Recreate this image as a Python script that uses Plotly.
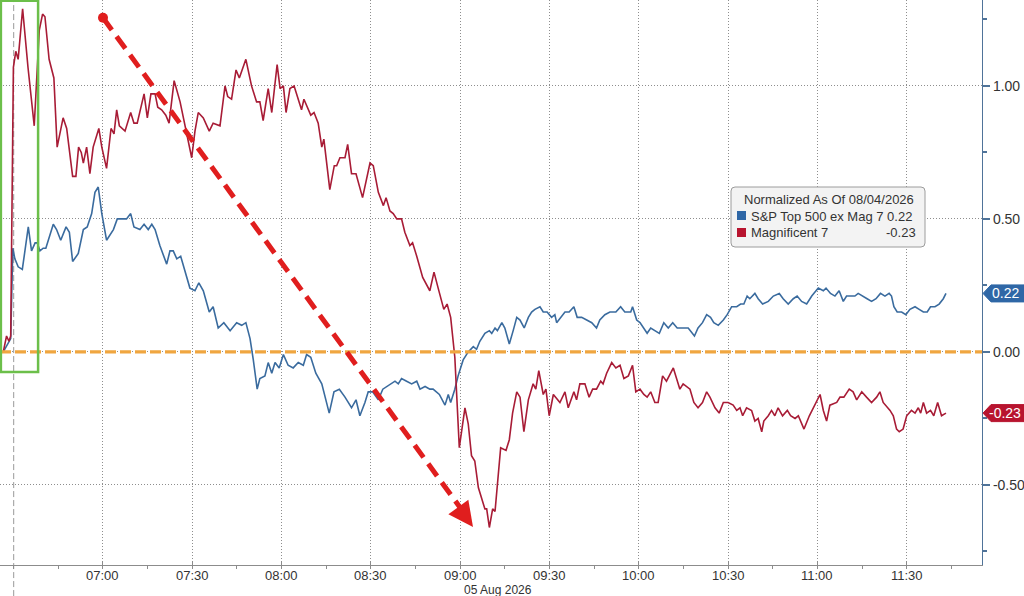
import pandas as pd
import plotly.graph_objects as go

# ---------------- data (minutes after the 06:30 open, normalized value) ----------------
SESSION_OPEN = "2026-08-05 06:30"
SERIES_NAMES = ["S&P Top 500 ex Mag 7", "Magnificent 7"]
LEGEND_TITLE = "Normalized As Of 08/04/2026"
DATE_LABEL = "05 Aug 2026"

X_TICKS = ["07:00", "07:30", "08:00", "08:30", "09:00", "09:30", "10:00", "10:30", "11:00", "11:30"]
Y_TICKS = [-0.50, 0.00, 0.50, 1.00]
Y_MINOR = [-0.75, -0.25, 0.25, 0.75, 1.25]

SPX_EX_MAG7 = [
    (-3.5, 0.00), (-2.4, 0.02), (-1.0, 0.05), (-0.3, 0.39), (0.4, 0.35), (1.5, 0.32), (2.9, 0.31),
    (4.9, 0.47), (6.0, 0.38), (7.2, 0.41), (7.9, 0.41), (8.8, 0.38), (9.9, 0.39), (10.8, 0.39),
    (12.0, 0.43), (13.3, 0.48), (14.4, 0.46), (15.8, 0.42), (17.6, 0.47), (18.7, 0.45), (19.8, 0.34),
    (21.7, 0.37), (23.4, 0.46), (24.7, 0.47), (26.2, 0.52), (27.3, 0.60), (28.4, 0.62), (29.6, 0.52),
    (31.2, 0.42), (33.5, 0.46), (34.8, 0.50), (36.8, 0.50), (37.9, 0.50), (39.3, 0.52), (40.4, 0.47),
    (42.4, 0.46), (43.8, 0.48), (45.2, 0.46), (46.4, 0.48), (47.5, 0.46), (49.1, 0.40), (51.4, 0.33),
    (52.5, 0.38), (53.6, 0.38), (54.8, 0.35), (56.1, 0.36), (57.5, 0.31), (59.2, 0.24), (60.9, 0.23),
    (62.2, 0.26), (63.7, 0.23), (65.7, 0.15), (67.0, 0.17), (68.7, 0.09), (70.6, 0.11), (72.7, 0.08),
    (74.9, 0.11), (76.6, 0.10), (78.0, 0.11), (79.4, 0.05), (80.5, -0.03), (81.8, -0.14), (82.7, -0.10),
    (84.4, -0.09), (85.5, -0.04), (86.7, -0.08), (87.8, -0.04), (89.2, -0.06), (90.6, -0.01), (92.2, -0.05),
    (93.9, -0.06), (95.6, -0.04), (97.3, -0.05), (98.4, -0.01), (99.8, -0.02), (101.5, -0.08), (103.5, -0.12),
    (106.0, -0.23), (107.6, -0.15), (109.4, -0.14), (111.3, -0.17), (113.5, -0.21), (115.0, -0.18),
    (116.3, -0.24), (118.0, -0.19), (119.1, -0.15), (120.6, -0.15), (122.5, -0.18), (124.0, -0.14),
    (125.3, -0.13), (126.6, -0.12), (128.1, -0.11), (129.2, -0.12), (130.3, -0.10), (132.0, -0.11),
    (133.7, -0.12), (135.4, -0.11), (136.5, -0.14), (138.2, -0.13), (139.8, -0.14), (140.9, -0.14),
    (143.0, -0.16), (144.9, -0.20), (146.0, -0.16), (146.8, -0.19), (148.2, -0.14), (149.3, -0.09),
    (151.0, -0.03), (152.7, 0.00), (154.4, 0.02), (155.5, 0.01), (156.6, 0.04), (158.3, 0.07), (159.8, 0.08),
    (160.6, 0.07), (161.7, 0.09), (162.5, 0.08), (164.0, 0.11), (165.0, 0.09), (166.5, 0.03), (167.8, 0.08),
    (169.0, 0.13), (170.1, 0.12), (171.5, 0.09), (172.9, 0.13), (174.0, 0.15), (175.1, 0.16), (176.8, 0.17),
    (177.9, 0.15), (179.2, 0.15), (180.7, 0.13), (181.8, 0.14), (182.4, 0.11), (183.7, 0.13), (185.2, 0.15),
    (186.6, 0.15), (188.2, 0.17), (189.3, 0.13), (190.8, 0.13), (192.5, 0.12), (194.2, 0.11), (195.8, 0.09),
    (196.9, 0.12), (198.6, 0.14), (200.3, 0.15), (202.3, 0.15), (203.9, 0.17), (205.3, 0.15), (207.3, 0.15),
    (207.9, 0.17), (209.3, 0.12), (210.4, 0.11), (211.7, 0.09), (212.8, 0.07), (214.0, 0.09), (215.4, 0.08),
    (216.9, 0.07), (218.4, 0.11), (219.9, 0.09), (221.4, 0.11), (222.9, 0.09), (224.7, 0.09), (226.6, 0.09),
    (228.7, 0.06), (229.9, 0.09), (231.4, 0.11), (232.8, 0.14), (234.1, 0.13), (235.2, 0.11), (236.7, 0.10),
    (238.4, 0.12), (239.7, 0.14), (241.2, 0.17), (242.9, 0.17), (244.2, 0.18), (245.3, 0.18), (246.4, 0.21),
    (247.3, 0.20), (249.0, 0.22), (250.1, 0.20), (251.6, 0.18), (253.5, 0.19), (255.2, 0.21), (257.2, 0.22),
    (258.5, 0.20), (260.2, 0.18), (261.9, 0.20), (263.2, 0.21), (264.7, 0.19), (266.4, 0.18), (268.1, 0.21),
    (270.3, 0.24), (272.0, 0.23), (272.9, 0.24), (274.4, 0.22), (275.9, 0.21), (277.3, 0.23), (278.7, 0.19),
    (279.8, 0.21), (280.9, 0.21), (282.6, 0.21), (283.7, 0.22), (285.4, 0.21), (286.7, 0.20), (288.2, 0.19),
    (289.7, 0.20), (291.2, 0.22), (292.7, 0.21), (294.1, 0.22), (294.9, 0.21), (295.7, 0.17), (296.8, 0.15),
    (298.3, 0.15), (299.7, 0.14), (301.1, 0.16), (302.8, 0.17), (304.2, 0.16), (305.6, 0.15), (306.9, 0.15),
    (308.0, 0.17), (309.5, 0.17), (310.9, 0.18), (312.3, 0.20), (313.2, 0.22),
]

MAG7 = [
    (-3.5, 0.00), (-2.4, 0.06), (-1.6, 0.04), (-1.0, 0.06), (-0.1, 1.07), (0.7, 1.13), (1.5, 1.10),
    (3.0, 1.29), (4.8, 1.07), (6.9, 0.85), (8.6, 1.21), (9.7, 1.27), (10.5, 1.26), (11.9, 1.10),
    (13.5, 1.03), (14.6, 0.77), (16.6, 0.88), (17.8, 0.84), (19.8, 0.66), (20.9, 0.66), (21.8, 0.77),
    (22.7, 0.75), (23.4, 0.71), (24.5, 0.77), (25.6, 0.67), (26.7, 0.77), (28.6, 0.84), (29.6, 0.77),
    (31.2, 0.69), (32.7, 0.84), (33.7, 0.82), (34.6, 0.91), (35.5, 0.85), (37.4, 0.83), (39.3, 0.90),
    (40.4, 0.86), (41.5, 0.86), (43.8, 0.97), (44.9, 0.88), (46.1, 0.97), (47.5, 0.97), (48.4, 0.92),
    (49.7, 0.91), (51.1, 0.89), (52.2, 0.86), (53.9, 1.02), (55.9, 0.94), (58.1, 0.82), (59.8, 0.73),
    (60.9, 0.83), (62.0, 0.90), (63.7, 0.88), (65.7, 0.83), (67.0, 0.86), (69.3, 0.85), (71.0, 1.00),
    (71.9, 0.96), (73.2, 0.95), (74.7, 1.06), (75.8, 1.03), (78.0, 1.10), (79.9, 1.00), (81.6, 0.94),
    (82.7, 0.94), (83.8, 0.87), (85.5, 0.99), (86.7, 0.90), (88.5, 1.08), (89.5, 0.99), (90.6, 1.00),
    (91.5, 0.90), (92.8, 0.99), (94.2, 1.00), (96.7, 0.91), (97.5, 0.95), (99.8, 0.89), (100.9, 0.90),
    (102.3, 0.86), (103.5, 0.77), (104.2, 0.80), (106.2, 0.61), (107.7, 0.70), (108.5, 0.70), (109.6, 0.73),
    (111.3, 0.73), (112.2, 0.78), (113.5, 0.67), (115.0, 0.67), (117.2, 0.58), (119.7, 0.71), (120.8, 0.70),
    (122.5, 0.60), (124.2, 0.55), (125.1, 0.58), (126.4, 0.53), (127.5, 0.52), (128.7, 0.50), (130.3, 0.50),
    (131.4, 0.45), (133.1, 0.40), (134.0, 0.41), (135.4, 0.36), (137.4, 0.28), (139.8, 0.23), (141.2, 0.30),
    (142.6, 0.24), (144.5, 0.16), (145.6, 0.18), (146.8, 0.13), (148.2, -0.02), (149.7, -0.36),
    (151.6, -0.21), (152.7, -0.27), (153.8, -0.39), (154.9, -0.41), (156.1, -0.51), (157.2, -0.55),
    (158.3, -0.59), (158.9, -0.59), (159.8, -0.66), (160.9, -0.59), (161.7, -0.60), (163.6, -0.36),
    (165.4, -0.37), (166.5, -0.33), (167.6, -0.23), (169.0, -0.15), (170.1, -0.17), (171.4, -0.30),
    (172.9, -0.18), (174.5, -0.12), (175.4, -0.14), (176.4, -0.07), (177.9, -0.16), (178.8, -0.14),
    (179.9, -0.24), (181.3, -0.16), (183.5, -0.19), (185.2, -0.15), (186.3, -0.21), (188.2, -0.15),
    (189.1, -0.18), (190.2, -0.12), (191.9, -0.12), (193.3, -0.17), (194.5, -0.14), (195.8, -0.14),
    (197.2, -0.11), (198.0, -0.12), (199.2, -0.08), (200.9, -0.04), (202.3, -0.06), (203.7, -0.05),
    (205.0, -0.10), (206.5, -0.09), (207.9, -0.05), (209.0, -0.15), (210.4, -0.14), (211.7, -0.16),
    (212.8, -0.17), (214.0, -0.15), (215.4, -0.19), (216.5, -0.19), (218.0, -0.09), (219.3, -0.11),
    (221.6, -0.06), (223.8, -0.14), (224.9, -0.12), (227.2, -0.14), (228.5, -0.19), (229.9, -0.21),
    (231.4, -0.19), (232.8, -0.15), (233.9, -0.17), (235.6, -0.21), (237.0, -0.23), (238.4, -0.19),
    (240.0, -0.19), (241.7, -0.20), (242.9, -0.22), (244.0, -0.21), (244.9, -0.24), (246.2, -0.21),
    (247.9, -0.22), (249.0, -0.26), (250.1, -0.25), (251.3, -0.30), (252.0, -0.26), (253.5, -0.24),
    (254.6, -0.22), (255.7, -0.24), (256.8, -0.21), (258.3, -0.24), (259.9, -0.22), (261.0, -0.24),
    (262.5, -0.25), (263.6, -0.24), (264.4, -0.26), (265.5, -0.29), (267.3, -0.24), (269.2, -0.20),
    (270.9, -0.16), (272.0, -0.22), (273.1, -0.26), (274.2, -0.20), (276.5, -0.19), (277.6, -0.17),
    (278.9, -0.17), (280.7, -0.14), (282.0, -0.15), (283.2, -0.18), (284.9, -0.15), (286.5, -0.17),
    (288.2, -0.19), (289.9, -0.17), (291.0, -0.15), (292.1, -0.19), (294.4, -0.22), (295.5, -0.24),
    (296.6, -0.29), (297.5, -0.30), (298.8, -0.29), (300.0, -0.24), (301.6, -0.22), (302.8, -0.23),
    (303.9, -0.21), (304.7, -0.23), (305.6, -0.19), (306.7, -0.23), (308.0, -0.22), (309.1, -0.24),
    (310.4, -0.19), (311.7, -0.24), (313.2, -0.23),
]

# annotation anchors (time as minutes after open, value)
ARROW_START = (30.0, 1.256)
ARROW_END = (154.3, -0.658)
BOX_T = (-4.3, 8.2)
BOX_V = (-0.075, 1.32)

# ---------------- styling ----------------
BLUE = "#3A6B9E"
RED = "#A81C36"
BLUE_BADGE = "#2F67A6"
RED_BADGE = "#B8142F"
GRID = "#8E8E8E"
FONT = "Liberation Sans"
AXFONT = "Liberation Sans Narrow, Liberation Sans"
FS = 13
AXFS = 14
X_RANGE_MIN = (-4.6, 325.3)
Y_RANGE = (-0.801, 1.323)

open_ts = pd.Timestamp(SESSION_OPEN)


def ts(m):
    return open_ts + pd.to_timedelta(m, unit="min")


def split(pairs):
    return [ts(t) for t, _ in pairs], [v for _, v in pairs]


fig = go.Figure()
for name, pairs, color in [(SERIES_NAMES[0], SPX_EX_MAG7, BLUE), (SERIES_NAMES[1], MAG7, RED)]:
    xs, ys = split(pairs)
    fig.add_trace(go.Scatter(x=xs, y=ys, mode="lines", name=name,
                             line=dict(color=color, width=1.6), hoverinfo="skip"))

# start dot of the red arrow
fig.add_trace(go.Scatter(x=[ts(ARROW_START[0])], y=[ARROW_START[1]], mode="markers",
                         marker=dict(color="#E01E1E", size=10), hoverinfo="skip", showlegend=False))

day = SESSION_OPEN.split(" ")[0]
tickvals = [pd.Timestamp(f"{day} {t}") for t in X_TICKS]

fig.update_layout(
    width=1024, height=596,
    margin=dict(l=0, r=42, t=0, b=31),
    paper_bgcolor="white", plot_bgcolor="white",
    showlegend=False,
    font=dict(family=FONT, size=FS, color="#333333"),
)
fig.update_xaxes(
    type="date", range=[ts(X_RANGE_MIN[0]), ts(X_RANGE_MIN[1])],
    tickmode="array", tickvals=tickvals, ticktext=X_TICKS, showticklabels=False,
    showgrid=True, gridcolor=GRID, griddash="1px,2px", gridwidth=1,
    showline=True, linecolor="#8C8C8C", linewidth=1,
    ticks="inside", ticklen=4, tickcolor="#8C8C8C",
    minor=dict(dtick=15 * 60 * 1000, tick0=SESSION_OPEN, ticks="outside", ticklen=3,
               tickcolor="#8C8C8C", showgrid=False),
    zeroline=False, automargin=False,
)
fig.update_yaxes(
    side="right", range=list(Y_RANGE),
    tickmode="array", tickvals=Y_TICKS, ticktext=[f"{v:.2f}" for v in Y_TICKS],
    showgrid=True, gridcolor=GRID, griddash="1px,2px", gridwidth=1,
    showline=True, linecolor="#4F7399", linewidth=1.2,
    ticks="outside", ticklen=7, tickcolor="#4F7399", tickwidth=2,
    minor=dict(tickvals=Y_MINOR, ticks="outside", ticklen=4, tickcolor="#4F7399", showgrid=False),
    zeroline=False, automargin=False,
    tickfont=dict(family=AXFONT, size=AXFS, color="#333333"),
)

shapes = []
# orange zero line
shapes.append(dict(type="line", xref="paper", yref="y", x0=0, x1=1, y0=0, y1=0,
                   line=dict(color="#F0A640", width=3.2, dash="11px,4px"), layer="above"))
# event line at the open
shapes.append(dict(type="line", xref="x", yref="paper", x0=ts(0), x1=ts(0), y0=-0.055, y1=1,
                   line=dict(color="#999999", width=1, dash="6px,3px"), layer="below"))
# green highlight box
shapes.append(dict(type="rect", xref="x", yref="y", x0=ts(BOX_T[0]), x1=ts(BOX_T[1]),
                   y0=BOX_V[0], y1=BOX_V[1], line=dict(color="#6CBF4A", width=2.5),
                   fillcolor="rgba(0,0,0,0)", layer="above"))
# red dashed arrow shaft
shapes.append(dict(type="line", xref="x", yref="y", x0=ts(ARROW_START[0]), y0=ARROW_START[1],
                   x1=ts(ARROW_END[0] - 2.5), y1=ARROW_END[1] + 0.045,
                   line=dict(color="#E01E1E", width=5, dash="15px,8px"), layer="above"))

# legend box (paper coordinates)
PW, PH = 982.0, 565.0


def px(x):
    return x / PW


def py(y):
    return (PH - y) / PH


bx0, bx1, by0, by1 = px(731), px(925), py(247), py(187)
rx, ry = 4 / PW, 4 / PH
path = (f"M {bx0+rx},{by0} L {bx1-rx},{by0} Q {bx1},{by0} {bx1},{by0+ry} "
        f"L {bx1},{by1-ry} Q {bx1},{by1} {bx1-rx},{by1} L {bx0+rx},{by1} "
        f"Q {bx0},{by1} {bx0},{by1-ry} L {bx0},{by0+ry} Q {bx0},{by0} {bx0+rx},{by0} Z")
shapes.append(dict(type="path", xref="paper", yref="paper", path=path,
                   fillcolor="#F3F3F3", line=dict(color="#9C9C9C", width=1), layer="above"))
shapes.append(dict(type="rect", xref="paper", yref="paper", x0=px(737), x1=px(746),
                   y0=py(220), y1=py(211), fillcolor=BLUE_BADGE, line=dict(width=0)))
shapes.append(dict(type="rect", xref="paper", yref="paper", x0=px(737), x1=px(746),
                   y0=py(237), y1=py(228), fillcolor=RED_BADGE, line=dict(width=0)))

annotations = []
last_blue = SPX_EX_MAG7[-1][1]
last_red = MAG7[-1][1]
annotations.append(dict(xref="paper", yref="paper", x=px(742), y=py(199), xanchor="left", yanchor="middle",
                        text=LEGEND_TITLE, showarrow=False, font=dict(size=FS, color="#333333")))
annotations.append(dict(xref="paper", yref="paper", x=px(749), y=py(216), xanchor="left", yanchor="middle",
                        text=f"{SERIES_NAMES[0]} {last_blue:.2f}", showarrow=False,
                        font=dict(size=FS, color="#333333")))
annotations.append(dict(xref="paper", yref="paper", x=px(749), y=py(233), xanchor="left", yanchor="middle",
                        text=SERIES_NAMES[1], showarrow=False, font=dict(size=FS, color="#333333")))
annotations.append(dict(xref="paper", yref="paper", x=px(918), y=py(233), xanchor="right", yanchor="middle",
                        text=f"{last_red:.2f}", showarrow=False, font=dict(size=FS, color="#333333")))
# x-axis time labels placed just under the axis line
for tv, tt in zip(tickvals, X_TICKS):
    annotations.append(dict(xref="x", yref="paper", x=tv, y=py(575), xanchor="center", yanchor="middle",
                            text=tt, showarrow=False, font=dict(family=AXFONT, size=13, color="#333333")))
annotations.append(dict(xref="paper", yref="paper", x=px(498), y=py(590), xanchor="center", yanchor="middle",
                        text=DATE_LABEL, showarrow=False, font=dict(family=AXFONT, size=12, color="#333333")))

# value badges on the right axis
yspan = Y_RANGE[1] - Y_RANGE[0]
for val, col in [(last_blue, BLUE_BADGE), (last_red, RED_BADGE)]:
    cy = (val - Y_RANGE[0]) / yspan
    h = 8.5 / PH
    x_tip, x_body, x_end = px(983), px(991), px(1024)
    shapes.append(dict(type="path", xref="paper", yref="paper",
                       path=f"M {x_tip},{cy} L {x_body},{cy+h} L {x_end},{cy+h} L {x_end},{cy-h} L {x_body},{cy-h} Z",
                       fillcolor=col, line=dict(color=col, width=1), layer="above"))
    annotations.append(dict(xref="paper", yref="paper", x=px(1005), y=cy, xanchor="center", yanchor="middle",
                            text=f"{val:.2f}", showarrow=False,
                            font=dict(family=AXFONT, size=AXFS, color="white")))

# arrow head
annotations.append(dict(x=ts(ARROW_END[0]), y=ARROW_END[1], xref="x", yref="y",
                        ax=-11, ay=-15, axref="pixel", ayref="pixel", text="", showarrow=True,
                        arrowhead=2, arrowsize=1.1, arrowwidth=4.5, arrowcolor="#E01E1E"))

fig.update_layout(shapes=shapes, annotations=annotations)
fig.write_html(
    "out.html",
    config={"displayModeBar": False},
    post_script="document.body.style.margin='0';document.body.style.overflow='hidden';",
)
